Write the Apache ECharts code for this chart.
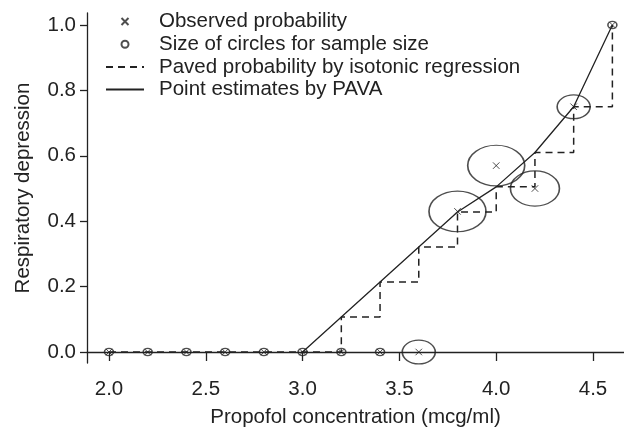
<!DOCTYPE html>
<html>
<head>
<meta charset="utf-8">
<script src="https://cdn.jsdelivr.net/npm/echarts@6/dist/echarts.min.js"></script>
<style>
html,body{margin:0;padding:0;background:#fff;}
#c{width:624px;height:430px;}
</style>
</head>
<body>
<div id="c"></div>
<script>
// ---- data ----
var concentrations = [2.0, 2.2, 2.4, 2.6, 2.8, 3.0, 3.2, 3.4, 3.6, 3.8, 4.0, 4.2, 4.4, 4.6];
var observedProb   = [0, 0, 0, 0, 0, 0, 0, 0, 0, 0.43, 0.57, 0.50, 0.75, 1.0];
var sampleSizes    = [1, 1, 1, 1, 1, 1, 1, 1, 4, 7, 7, 6, 4, 1];
var pavedProb      = [0, 0, 0, 0, 0, 0, 0.107, 0.214, 0.321, 0.428, 0.505, 0.61, 0.75, 1.0];
var pavaStartIndex = 5; // point estimates drawn from 3.0 onward
var xTicks = [2.0, 2.5, 3.0, 3.5, 4.0, 4.5];
var yTicks = [0.0, 0.2, 0.4, 0.6, 0.8, 1.0];
var seriesNames = ['Observed probability', 'Size of circles for sample size',
                   'Paved probability by isotonic regression', 'Point estimates by PAVA'];
var xAxisTitle = 'Propofol concentration (mcg/ml)';
var yAxisTitle = 'Respiratory depression';

// ---- build ----
var ink = '#222';
var clear = 'rgba(0,0,0,0)';
var fontFam = '"Liberation Sans", Arial, Helvetica, sans-serif';
var pts = function (ys, from) {
  var out = [];
  for (var i = from || 0; i < concentrations.length; i++) out.push([concentrations[i], ys[i]]);
  return out;
};
var xPath = 'path://M0,0L10,10M10,0L0,10';

var chart = echarts.init(document.getElementById('c'), null, {renderer: 'canvas'});
chart.setOption({
  animation: false,
  backgroundColor: '#fff',
  grid: {left: 87, right: 0, top: 13, bottom: 67, containLabel: false, outerBoundsMode: 'none'},
  legend: {
    orient: 'vertical',
    left: 105, top: 11,
    padding: 0,
    itemWidth: 38, itemHeight: 7, itemGap: 1.7,
    textStyle: {color: ink, fontFamily: fontFam, fontSize: 20.5, lineHeight: 20, padding: [0, 0, 0, 10]},
    data: [
      {name: seriesNames[0]},
      {name: seriesNames[1]},
      {name: seriesNames[2], itemStyle: {color: clear, borderWidth: 0, opacity: 0}},
      {name: seriesNames[3], itemStyle: {color: clear, borderWidth: 0, opacity: 0}}
    ]
  },
  xAxis: {
    type: 'value',
    min: 1.8864, max: 4.66,
    name: xAxisTitle, nameLocation: 'middle', nameGap: 44,
    nameTextStyle: {color: ink, fontFamily: fontFam, fontSize: 20.5},
    axisLine: {show: true, lineStyle: {color: ink, width: 1.3}},
    axisTick: {show: true, length: 9, lineStyle: {color: ink, width: 1.3}, customValues: xTicks},
    axisLabel: {color: ink, fontFamily: fontFam, fontSize: 20.5, margin: 16, customValues: xTicks,
                formatter: function (v) { return v.toFixed(1); }},
    splitLine: {show: false}
  },
  yAxis: {
    type: 'value',
    min: -0.0336, max: 1.0367,
    name: yAxisTitle, nameLocation: 'middle', nameGap: 53, nameRotate: 90,
    nameTextStyle: {color: ink, fontFamily: fontFam, fontSize: 20.5},
    axisLine: {show: true, lineStyle: {color: ink, width: 1.3}},
    axisTick: {show: true, length: 7, lineStyle: {color: ink, width: 1.3}, customValues: yTicks},
    axisLabel: {color: ink, fontFamily: fontFam, fontSize: 20.5, margin: 11, customValues: yTicks,
                formatter: function (v) { return v.toFixed(1); }},
    splitLine: {show: false}
  },
  series: [
    {
      name: seriesNames[2], type: 'line', step: 'end',
      data: pts(pavedProb), symbol: 'none',
      lineStyle: {color: ink, width: 1.5, type: [7, 5]},
      itemStyle: {color: clear, borderWidth: 0}, z: 2
    },
    {
      name: seriesNames[3], type: 'line',
      data: pts(pavedProb, pavaStartIndex), symbol: 'none',
      lineStyle: {color: ink, width: 1.3, type: 'solid'},
      itemStyle: {color: clear, borderWidth: 0}, z: 2
    },
    {
      name: seriesNames[1], type: 'scatter',
      data: pts(observedProb), symbol: 'circle',
      symbolSize: function (v, p) { var n = sampleSizes[p.dataIndex]; return [8 * n + 1, 5.6 * n + 1.5]; },
      itemStyle: {color: clear, borderColor: ink, borderWidth: 1.4}, z: 3
    },
    {
      name: seriesNames[0], type: 'scatter',
      data: pts(observedProb), symbol: xPath, symbolSize: [6.5, 6.5],
      itemStyle: {color: clear, borderColor: ink, borderWidth: 1}, z: 4
    }
  ]
});
</script>
</body>
</html>
